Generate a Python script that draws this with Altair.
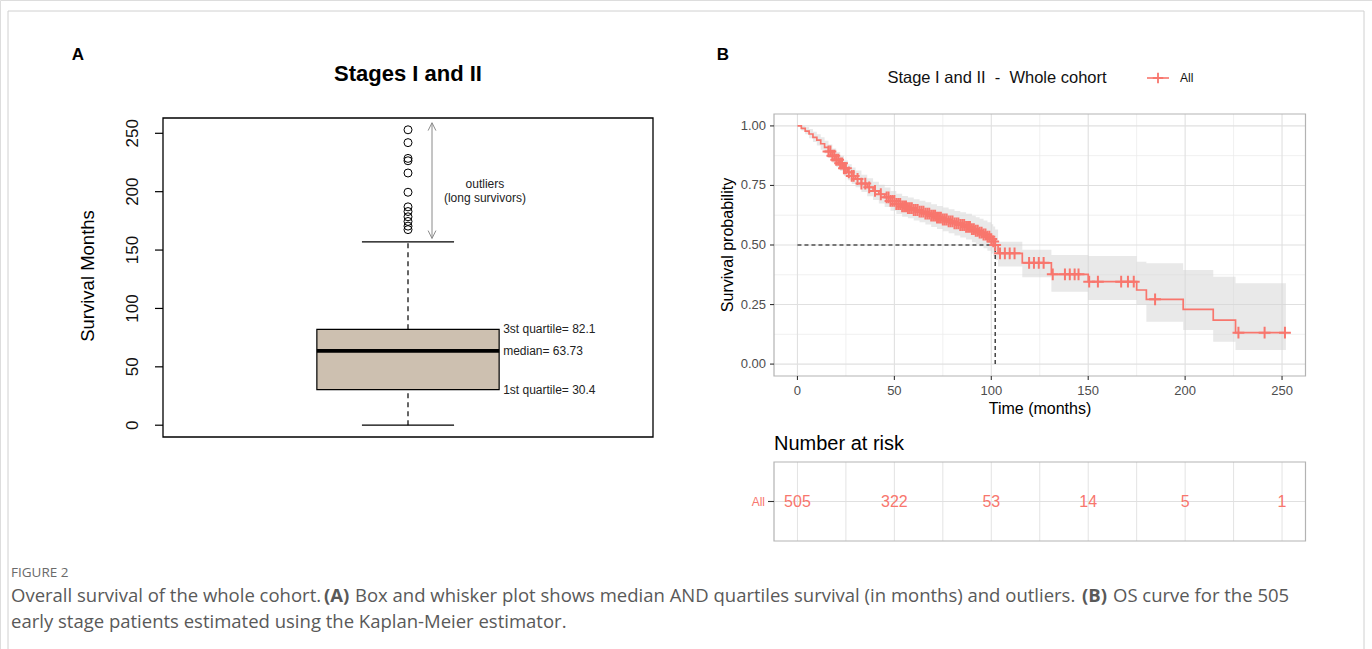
import altair as alt
import pandas as pd

# ---------------- Panel A: box plot values ----------------
box_group = [1]
box_q1 = [30.4]
box_median = [63.73]
box_q3 = [82.1]
whisker_low = [0]
whisker_high = [157]
outlier_months = [253, 242, 228.5, 226.5, 216, 199.5, 187, 183, 178.5, 174.5, 170.5, 167.5]
box_tick_values = [0, 50, 100, 150, 200, 250]
box_notes = ["3st quartile= 82.1", "median= 63.73", "1st quartile= 30.4"]
box_note_values = [82.1, 63.73, 30.4]
outlier_note_lines = ["outliers", "(long survivors)"]
outlier_arrow_span = [160, 259]

# ---------------- Panel B: Kaplan-Meier values ----------------
km_time = [0, 2, 4, 6, 8, 10, 12, 14, 16, 18, 20, 22, 24, 26, 28, 30, 33, 36, 39, 42, 45, 48,
           51, 54, 57, 60, 63, 66, 69, 72, 75, 78, 81, 84, 87, 90, 92, 94, 96, 98, 100, 101,
           102, 103.5, 116, 131, 150, 175, 180, 199, 214.5, 226, 252]
km_surv = [1.0, 0.99, 0.978, 0.966, 0.952, 0.94, 0.925, 0.91, 0.893, 0.875, 0.858, 0.843,
           0.822, 0.805, 0.79, 0.777, 0.758, 0.742, 0.727, 0.713, 0.70, 0.685, 0.672, 0.662,
           0.655, 0.647, 0.64, 0.632, 0.623, 0.615, 0.607, 0.599, 0.591, 0.584, 0.576, 0.567,
           0.56, 0.552, 0.544, 0.535, 0.525, 0.515, 0.50, 0.465, 0.425, 0.377, 0.346, 0.311,
           0.272, 0.23, 0.185, 0.132, 0.132]
km_upper = [1.0, 1.0, 0.995, 0.987, 0.975, 0.965, 0.952, 0.938, 0.922, 0.905, 0.89, 0.875,
            0.855, 0.839, 0.825, 0.813, 0.795, 0.78, 0.766, 0.753, 0.741, 0.727, 0.715, 0.706,
            0.699, 0.692, 0.686, 0.679, 0.671, 0.664, 0.657, 0.65, 0.643, 0.637, 0.631, 0.623,
            0.617, 0.61, 0.603, 0.595, 0.587, 0.578, 0.565, 0.514, 0.48, 0.458, 0.454, 0.43,
            0.423, 0.395, 0.367, 0.339, 0.339]
km_lower = [1.0, 0.981, 0.965, 0.948, 0.932, 0.918, 0.9, 0.884, 0.865, 0.845, 0.828, 0.811,
            0.79, 0.772, 0.756, 0.742, 0.722, 0.705, 0.689, 0.674, 0.66, 0.644, 0.63, 0.619,
            0.612, 0.603, 0.595, 0.586, 0.576, 0.567, 0.558, 0.549, 0.54, 0.532, 0.523, 0.512,
            0.504, 0.495, 0.486, 0.476, 0.464, 0.453, 0.437, 0.41, 0.365, 0.304, 0.269, 0.25,
            0.178, 0.143, 0.094, 0.059, 0.059]
censor_times = [16, 17, 18, 19, 20, 21, 22, 23, 24, 25, 26.5, 28, 29, 31, 33, 35, 37, 40, 43,
                46, 47, 48, 49, 50, 51, 52, 53, 54, 55, 56, 57, 58, 59, 60, 61, 62, 63, 64, 65,
                66, 67, 68, 69, 70, 71, 72, 73, 74, 75, 76, 77, 78, 79, 80, 81, 82, 83, 84, 85,
                86, 87, 88, 89, 90, 91, 92, 93, 94, 95, 96, 97, 98, 99, 100, 101, 102, 104.5,
                107, 109.5, 112, 119.5, 122, 124.5, 127, 131.7, 138, 140.5, 143, 145, 150.5,
                155, 167, 170.5, 173.5, 184.5, 227.5, 241, 251.5]
median_survival = 102
median_level = 0.5
km_x_ticks = [0, 50, 100, 150, 200, 250]
km_x_minor = [25, 75, 125, 175, 225]
km_y_ticks = [0.0, 0.25, 0.5, 0.75, 1.0]
km_y_minor = [0.125, 0.375, 0.625, 0.875]

# ---------------- Risk table ----------------
risk_times = [0, 50, 100, 150, 200, 250]
risk_counts = [505, 322, 53, 14, 5, 1]

# ---------------- Texts ----------------
caption_label = "FIGURE 2"
caption_parts = ["Overall survival of the whole cohort.", "(A)",
                 "Box and whisker plot shows median AND quartiles survival (in months) and outliers.",
                 "(B)", "OS curve for the 505"]
caption_line2 = "early stage patients estimated using the Kaplan-Meier estimator."

FONT = "Liberation Sans, Arial, Helvetica, sans-serif"
CAP_FONT = "Open Sans, Noto Sans, sans-serif"
RED = "#F8766D"
CAP_SIZE = 18.5


def text_at(s, x, y, size, **kw):
    return alt.Chart(pd.DataFrame({"t": [s]})).mark_text(fontSize=size, **kw).encode(
        x=alt.value(x), y=alt.value(y), text="t:N")


# ======================= Panel A =======================
xA = alt.Scale(domain=[0.5, 1.5], range=[163, 653], nice=False, zero=False)
yA = alt.Scale(domain=[-10.1, 263.1], range=[437, 118], nice=False, zero=False)
BOX_HALF = 0.186
CAP_HALF = 0.094

box_df = pd.DataFrame({"g": box_group, "q1": box_q1, "med": box_median, "q3": box_q3,
                       "lo": whisker_low, "hi": whisker_high})
box_df["left"] = box_df["g"] - BOX_HALF
box_df["right"] = box_df["g"] + BOX_HALF
box_df["capL"] = box_df["g"] - CAP_HALF
box_df["capR"] = box_df["g"] + CAP_HALF

frameA_df = pd.DataFrame({"x0": [0.5], "x1": [1.5], "y0": [-10.1], "y1": [263.1]})
out_df = pd.DataFrame({"g": box_group[0], "v": outlier_months})
tickA_df = pd.DataFrame({"v": box_tick_values, "lab": [str(v) for v in box_tick_values]})
notes_df = pd.DataFrame({"t": box_notes, "v": box_note_values, "x": box_group[0] + BOX_HALF})
arrow_df = pd.DataFrame({"x": [1.049], "y0": [outlier_arrow_span[0]], "y1": [outlier_arrow_span[1]]})
onote_df = pd.DataFrame({"t": outlier_note_lines, "x": [1.157, 1.157], "v": [206.8, 195.0]})

XA = lambda f: alt.X(f, scale=xA, axis=None)
YA = lambda f: alt.Y(f, scale=yA, axis=None)

boxA = alt.Chart(box_df)
whisk_hi = boxA.mark_rule(color="black", strokeDash=[5, 4], strokeWidth=1.2).encode(
    x=XA("g:Q"), y=YA("q3:Q"), y2="hi:Q")
whisk_lo = boxA.mark_rule(color="black", strokeDash=[5, 4], strokeWidth=1.2).encode(
    x=XA("g:Q"), y=YA("lo:Q"), y2="q1:Q")
cap_hi = boxA.mark_rule(color="black", strokeWidth=1.3).encode(
    x=XA("capL:Q"), x2="capR:Q", y=YA("hi:Q"))
cap_lo = boxA.mark_rule(color="black", strokeWidth=1.3).encode(
    x=XA("capL:Q"), x2="capR:Q", y=YA("lo:Q"))
box_rect = boxA.mark_rect(fill="#CDC0B0", stroke="black", strokeWidth=1.2).encode(
    x=XA("left:Q"), x2="right:Q", y=YA("q1:Q"), y2="q3:Q")
med_rule = boxA.mark_rule(color="black", strokeWidth=3.8).encode(
    x=XA("left:Q"), x2="right:Q", y=YA("med:Q"))
outl = alt.Chart(out_df).mark_point(shape="circle", filled=False, color="black",
                                   strokeWidth=1, size=64, opacity=1).encode(
    x=XA("g:Q"), y=YA("v:Q"))
notes = alt.Chart(notes_df).mark_text(align="left", baseline="middle", dx=4, fontSize=12,
                                      font=FONT, color="#222").encode(
    x=XA("x:Q"), y=YA("v:Q"), text="t:N")
arrow = alt.Chart(arrow_df).mark_rule(color="#8a8a8a", strokeWidth=1).encode(
    x=XA("x:Q"), y=YA("y0:Q"), y2="y1:Q")
arrow_top = alt.Chart(arrow_df).mark_point(shape="M-0.45,0.9L0,0L0.45,0.9", filled=False,
                                          color="#8a8a8a", strokeWidth=1, size=300, opacity=1).encode(
    x=XA("x:Q"), y=YA("y1:Q"))
arrow_bot = alt.Chart(arrow_df).mark_point(shape="M-0.45,-0.9L0,0L0.45,-0.9", filled=False,
                                          color="#8a8a8a", strokeWidth=1, size=300, opacity=1).encode(
    x=XA("x:Q"), y=YA("y0:Q"))
onote = alt.Chart(onote_df).mark_text(align="center", baseline="middle", fontSize=12,
                                      font=FONT, color="#222").encode(
    x=XA("x:Q"), y=YA("v:Q"), text="t:N")
tickA = alt.Chart(tickA_df).mark_rule(color="black", strokeWidth=1.2).encode(
    x=alt.value(163), x2=alt.value(155), y=YA("v:Q"))
tickA_lab = alt.Chart(tickA_df).mark_text(angle=270, align="center", baseline="bottom",
                                          fontSize=17, font=FONT, color="#111").encode(
    x=alt.value(142), y=YA("v:Q"), text="lab:N")
frameA = alt.Chart(frameA_df).mark_rect(fillOpacity=0, stroke="black", strokeWidth=1.3).encode(
    x=XA("x0:Q"), x2="x1:Q", y=YA("y0:Q"), y2="y1:Q")

groupA = alt.layer(whisk_hi, whisk_lo, cap_hi, cap_lo, box_rect, med_rule, outl, notes,
                   arrow, arrow_top, arrow_bot, onote, tickA, tickA_lab, frameA)

# ======================= Panel B =======================
XMIN, XMAX = -12.1, 262.1
YMIN, YMAX = -0.05, 1.05
xB = alt.Scale(domain=[XMIN, XMAX], range=[774, 1305.5], nice=False, zero=False)
yB = alt.Scale(domain=[YMIN, YMAX], range=[376, 114], nice=False, zero=False)
XB = lambda f: alt.X(f, scale=xB, axis=None)
YB = lambda f: alt.Y(f, scale=yB, axis=None)

km_df = pd.DataFrame({"t": km_time, "s": km_surv, "lo": km_lower, "hi": km_upper})


def surv_at(t):
    s = km_surv[0]
    for tt, ss in zip(km_time, km_surv):
        if tt <= t:
            s = ss
    return s


cens_df = pd.DataFrame({"t": censor_times, "s": [surv_at(t) for t in censor_times]})
gx_major = pd.DataFrame({"t": km_x_ticks, "y0": YMIN, "y1": YMAX})
gx_minor = pd.DataFrame({"t": km_x_minor, "y0": YMIN, "y1": YMAX})
gy_major = pd.DataFrame({"s": km_y_ticks, "x0": XMIN, "x1": XMAX})
gy_minor = pd.DataFrame({"s": km_y_minor, "x0": XMIN, "x1": XMAX})
frameB_df = pd.DataFrame({"x0": [XMIN], "x1": [XMAX], "y0": [YMIN], "y1": [YMAX]})
med_df = pd.DataFrame({"t0": [0], "t": [median_survival], "s": [median_level], "s0": [0]})
xlab_df = pd.DataFrame({"t": km_x_ticks, "lab": [str(v) for v in km_x_ticks]})
ylab_df = pd.DataFrame({"s": km_y_ticks, "lab": [f"{v:.2f}" for v in km_y_ticks]})

grid_minor_x = alt.Chart(gx_minor).mark_rule(color="#ececec", strokeWidth=0.8).encode(
    x=XB("t:Q"), y=YB("y0:Q"), y2="y1:Q")
grid_major_x = alt.Chart(gx_major).mark_rule(color="#e0e0e0", strokeWidth=1.1).encode(
    x=XB("t:Q"), y=YB("y0:Q"), y2="y1:Q")
grid_minor_y = alt.Chart(gy_minor).mark_rule(color="#ececec", strokeWidth=0.8).encode(
    y=YB("s:Q"), x=XB("x0:Q"), x2="x1:Q")
grid_major_y = alt.Chart(gy_major).mark_rule(color="#e0e0e0", strokeWidth=1.1).encode(
    y=YB("s:Q"), x=XB("x0:Q"), x2="x1:Q")
band = alt.Chart(km_df).mark_area(interpolate="step-after", color="#d4d4d4", opacity=0.5).encode(
    x=XB("t:Q"), y=YB("lo:Q"), y2="hi:Q")
med_h = alt.Chart(med_df).mark_rule(color="black", strokeDash=[4, 3], strokeWidth=1.1).encode(
    x=XB("t0:Q"), x2="t:Q", y=YB("s:Q"))
med_v = alt.Chart(med_df).mark_rule(color="black", strokeDash=[4, 3], strokeWidth=1.1).encode(
    x=XB("t:Q"), y=YB("s0:Q"), y2="s:Q")
curve = alt.Chart(km_df).mark_line(interpolate="step-after", color=RED, strokeWidth=1.7).encode(
    x=XB("t:Q"), y=YB("s:Q"))
cens = alt.Chart(cens_df).mark_point(shape="M-1,0L1,0M0,-1L0,1", filled=False, color=RED,
                                    strokeWidth=2, size=140, opacity=1).encode(
    x=XB("t:Q"), y=YB("s:Q"))
frameB = alt.Chart(frameB_df).mark_rect(fillOpacity=0, stroke="#b3b3b3", strokeWidth=1.2).encode(
    x=XB("x0:Q"), x2="x1:Q", y=YB("y0:Q"), y2="y1:Q")
xticksB = alt.Chart(xlab_df).mark_rule(color="#333333", strokeWidth=1.1).encode(
    x=XB("t:Q"), y=alt.value(376), y2=alt.value(380))
xlabsB = alt.Chart(xlab_df).mark_text(fontSize=13, font=FONT, color="#4d4d4d",
                                      baseline="middle").encode(
    x=XB("t:Q"), y=alt.value(391), text="lab:N")
yticksB = alt.Chart(ylab_df).mark_rule(color="#333333", strokeWidth=1.1).encode(
    y=YB("s:Q"), x=alt.value(770), x2=alt.value(774))
ylabsB = alt.Chart(ylab_df).mark_text(fontSize=13, font=FONT, color="#4d4d4d", align="right",
                                      baseline="middle").encode(
    y=YB("s:Q"), x=alt.value(766), text="lab:N")

groupB = alt.layer(grid_minor_x, grid_minor_y, grid_major_x, grid_major_y, band, med_h, med_v,
                   curve, cens, frameB, xticksB, xlabsB, yticksB, ylabsB)

# ======================= Risk table =======================
xR = alt.Scale(domain=[XMIN, XMAX], range=[774, 1305.5], nice=False, zero=False)
yR = alt.Scale(domain=[0, 1], range=[541, 462], nice=False, zero=False)
XR = lambda f: alt.X(f, scale=xR, axis=None)
YR = lambda f: alt.Y(f, scale=yR, axis=None)

risk_df = pd.DataFrame({"t": risk_times, "n": [str(v) for v in risk_counts], "row": 0.5})
rgrid_df = pd.DataFrame({"t": sorted(km_x_ticks + km_x_minor), "y0": 0, "y1": 1})
rrow_df = pd.DataFrame({"row": [0.5], "x0": [XMIN], "x1": [XMAX]})
rframe_df = pd.DataFrame({"x0": [XMIN], "x1": [XMAX], "y0": [0], "y1": [1]})

rgrid = alt.Chart(rgrid_df).mark_rule(color="#e3e3e3", strokeWidth=1).encode(
    x=XR("t:Q"), y=YR("y0:Q"), y2="y1:Q")
rrow = alt.Chart(rrow_df).mark_rule(color="#e0e0e0", strokeWidth=1.1).encode(
    y=YR("row:Q"), x=XR("x0:Q"), x2="x1:Q")
rframe = alt.Chart(rframe_df).mark_rect(fillOpacity=0, stroke="#b3b3b3", strokeWidth=1.2).encode(
    x=XR("x0:Q"), x2="x1:Q", y=YR("y0:Q"), y2="y1:Q")
rnums = alt.Chart(risk_df).mark_text(fontSize=16, font=FONT, color=RED, baseline="middle").encode(
    x=XR("t:Q"), y=YR("row:Q"), text="n:N")
rtick = alt.Chart(rrow_df).mark_rule(color="#333333", strokeWidth=1.1).encode(
    y=YR("row:Q"), x=alt.value(768), x2=alt.value(774))
rlab = alt.Chart(pd.DataFrame({"row": [0.5], "t": ["All"]})).mark_text(
    fontSize=12, font=FONT, color=RED, align="right", baseline="middle").encode(
    y=YR("row:Q"), x=alt.value(765), text="t:N")

groupR = alt.layer(rgrid, rrow, rframe, rnums, rtick, rlab)

# ======================= Free texts / frame =======================
border = alt.Chart(pd.DataFrame({"k": [0]})).mark_rect(fillOpacity=0, stroke="#d0d0d0",
                                                      strokeWidth=1).encode(
    x=alt.value(8), x2=alt.value(1364), y=alt.value(11), y2=alt.value(700))
legend_line = alt.Chart(pd.DataFrame({"k": [0]})).mark_rule(color=RED, strokeWidth=1.6).encode(
    x=alt.value(1147), x2=alt.value(1169), y=alt.value(78))
legend_plus = alt.Chart(pd.DataFrame({"k": [0]})).mark_point(
    shape="M-1,0L1,0M0,-1L0,1", filled=False, color=RED, strokeWidth=1.8, size=110,
    opacity=1).encode(x=alt.value(1158), y=alt.value(78))

cap_kw = dict(font=CAP_FONT, align="left", baseline="middle", color="#595959")
texts = [
    text_at("A", 78, 55, 17, font=FONT, fontWeight="bold", baseline="middle"),
    text_at("B", 723, 55, 17, font=FONT, fontWeight="bold", baseline="middle"),
    text_at("Stages I and II", 408, 74, 22, font=FONT, fontWeight="bold", baseline="middle"),
    text_at("Survival Months", 88, 276, 18.5, font=FONT, angle=270, baseline="middle"),
    text_at("Stage I and II\u00a0\u00a0-\u00a0\u00a0Whole cohort", 997, 78, 16.5, font=FONT,
            baseline="middle", color="#111"),
    text_at("All", 1180, 78, 12, font=FONT, align="left", baseline="middle", color="#111"),
    text_at("Survival probability", 728, 245, 16, font=FONT, angle=270, baseline="middle"),
    text_at("Time (months)", 1040, 409, 16, font=FONT, baseline="middle"),
    text_at("Number at risk", 774, 444, 20, font=FONT, align="left", baseline="middle"),
    text_at(caption_label, 11, 573, 13.5, font=CAP_FONT, align="left", baseline="middle",
            color="#6a6a6a"),
    text_at(caption_parts[0], 11, 596, CAP_SIZE, **cap_kw),
    text_at(caption_parts[1], 324, 596, CAP_SIZE, fontWeight="bold", **cap_kw),
    text_at(caption_parts[2], 355, 596, CAP_SIZE, **cap_kw),
    text_at(caption_parts[3], 1082, 596, CAP_SIZE, fontWeight="bold", **cap_kw),
    text_at(caption_parts[4], 1113, 596, CAP_SIZE, **cap_kw),
    text_at(caption_line2, 11, 622, CAP_SIZE, **cap_kw),
]

groupT = alt.layer(border, legend_line, legend_plus, *texts)

chart = alt.layer(groupA, groupB, groupR, groupT).resolve_scale(
    x="independent", y="independent"
).properties(
    width=1372, height=649, autosize=alt.AutoSizeParams(type="none"), padding=0
).configure_view(strokeWidth=0).configure(background="white")

chart.save("out.html", embed_options={"renderer": "svg", "actions": False})
